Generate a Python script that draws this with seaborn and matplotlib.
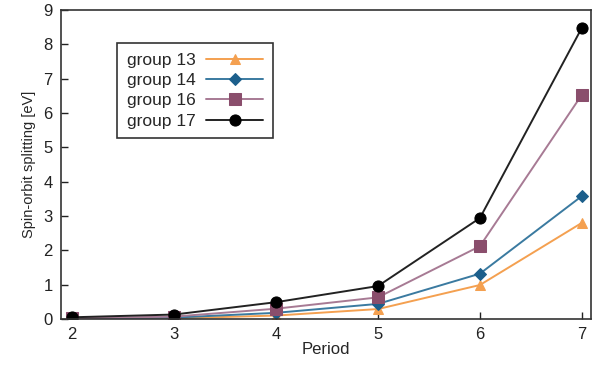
import matplotlib
matplotlib.use("Agg")
import matplotlib.pyplot as plt
import seaborn as sns
import pandas as pd

periods = [2, 3, 4, 5, 6, 7]
group13 = [0.005, 0.02, 0.10, 0.29, 0.99, 2.80]
group14 = [0.01, 0.04, 0.18, 0.44, 1.32, 3.58]
group16 = [0.02, 0.07, 0.30, 0.63, 2.12, 6.53]
group17 = [0.05, 0.13, 0.49, 0.96, 2.94, 8.48]
labels = ["group 13", "group 14", "group 16", "group 17"]
colors = ["#f4a050", "#1c5f8c", "#8a4e6c", "#000000"]
line_colors = ["#f4a050", "#3a7aa0", "#a77a94", "#222222"]
markers = ["^", "D", "s", "o"]
msizes = [7, 6, 8, 8]

sns.set_style("ticks")
plt.rcParams['font.family'] = ['Liberation Sans', 'DejaVu Sans']

rows = []
for lab, vals in zip(labels, [group13, group14, group16, group17]):
    for p, v in zip(periods, vals):
        rows.append({"Period": p, "value": v, "group": lab})
df = pd.DataFrame(rows)

fig = plt.figure(figsize=(5.97, 3.68), dpi=100)
ax = fig.add_axes([61/597, 1 - 319/368, 530/597, 309/368])

for lab, c, lc, m, ms in zip(labels, colors, line_colors, markers, msizes):
    sub = df[df.group == lab]
    sns.lineplot(data=sub, x="Period", y="value", ax=ax, color=lc, lw=1.4,
                 marker=m, markersize=ms, markerfacecolor=c, markeredgecolor=c,
                 label=lab)

ax.set_xlim(1.89, 7.09)
ax.set_ylim(0, 9)
ax.set_xticks(periods)
ax.set_yticks(range(0, 10))
ax.tick_params(direction="in", length=5, width=1, labelsize=12, colors="#222222", pad=6)
for s in ax.spines.values():
    s.set_visible(True)
    s.set_linewidth(1.2)
    s.set_color("#333333")
ax.set_xlabel("Period", fontsize=12, labelpad=0)
ax.set_ylabel("Spin-orbit splitting [eV]", fontsize=10.5, labelpad=5)

leg = ax.legend(loc="upper left", bbox_to_anchor=(0.106, 0.893), markerfirst=False,
                frameon=True, fancybox=False, edgecolor="black", fontsize=12.5,
                handlelength=3.3, borderpad=0.55, labelspacing=0.3, handletextpad=0.6,
                borderaxespad=0)
leg.get_frame().set_linewidth(1.2)

fig.savefig("out.png", dpi=100)
